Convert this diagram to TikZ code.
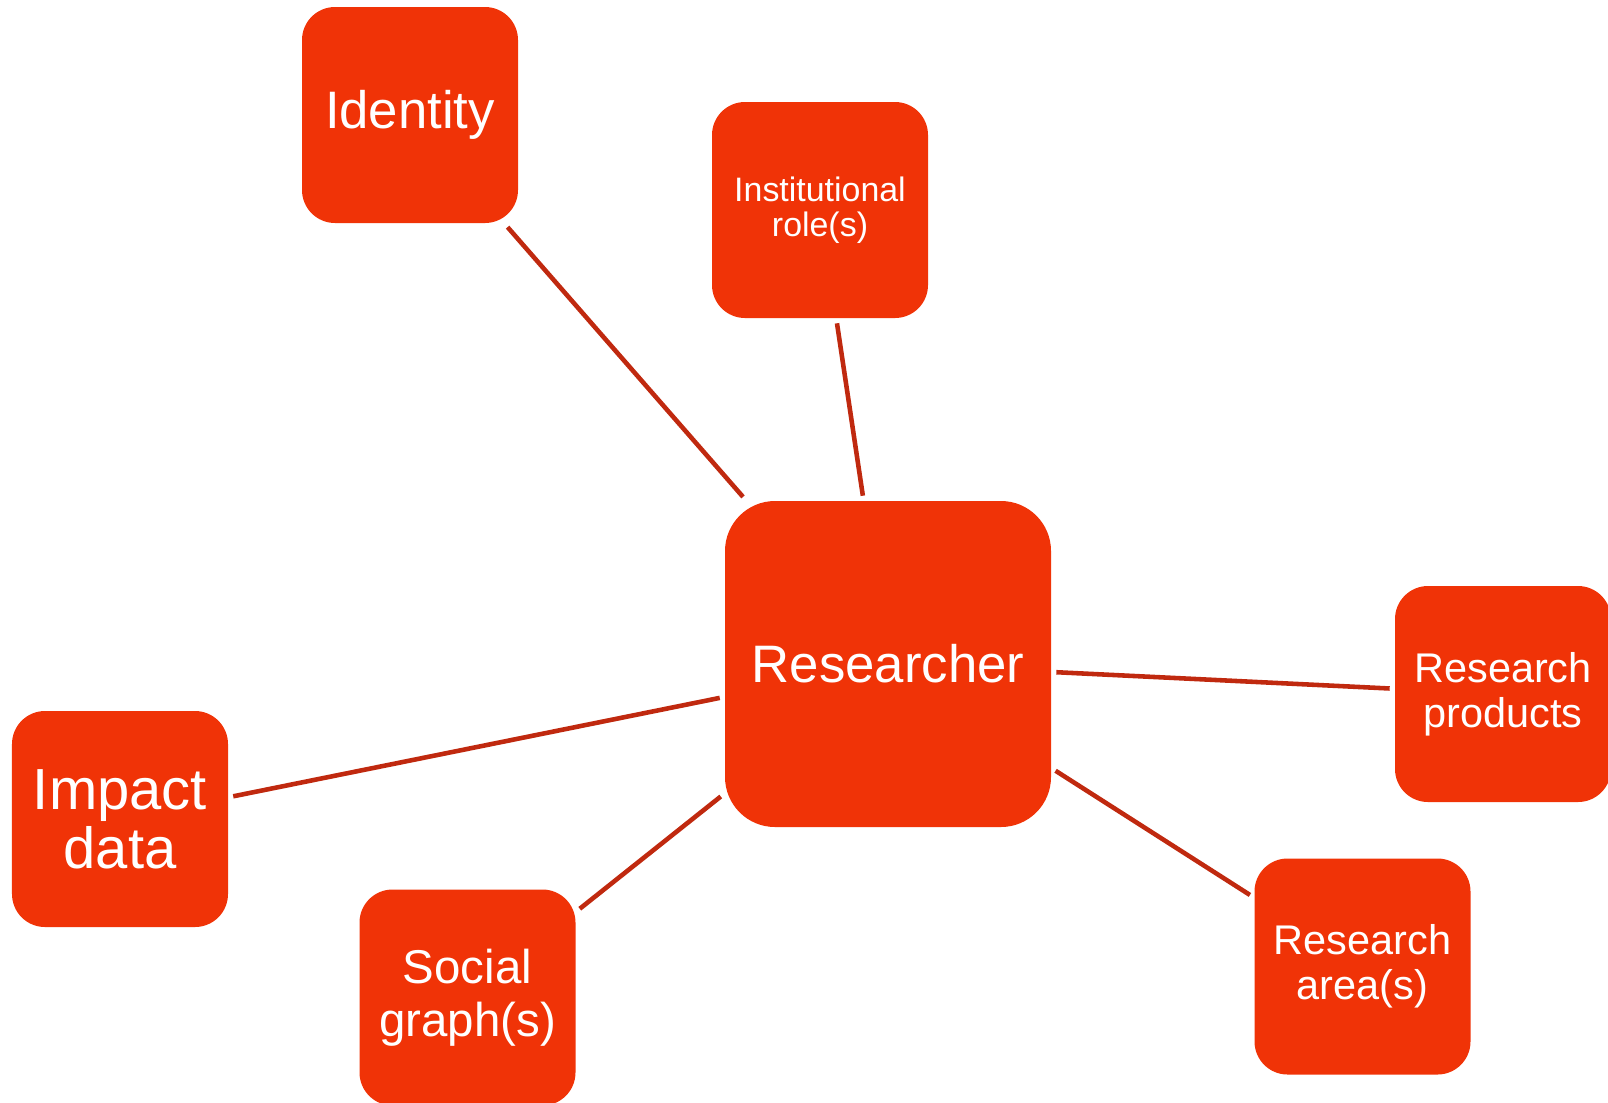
\documentclass[tikz,border=0pt]{standalone}
\usepackage{fontspec}
\setmainfont{Liberation Sans}
\definecolor{boxred}{HTML}{F03307}
\definecolor{linkred}{HTML}{C0290F}
\tikzset{
    topic/.style={rectangle, fill=boxred, text=white, align=center, inner sep=2pt,
        minimum width=4.32cm, minimum height=4.32cm, rounded corners=0.66cm},
    link/.style={draw=linkred, line width=2.6pt, shorten >=0.1cm, shorten <=0.1cm}
}
\begin{document}
\begin{tikzpicture}[-]
    \useasboundingbox (0,0) rectangle (32.16,-22.04);

    % centre
    \node[topic, minimum width=6.52cm, minimum height=6.52cm, rounded corners=1cm,
        font=\fontsize{30}{30}\selectfont](R) at (17.76,-13.28) {Researcher};

    % the six around it
    \node[topic, font=\fontsize{30}{30}\selectfont](Ident) at (8.2,-2.3) {Identity};
    \node[topic, font=\fontsize{19.3}{20}\selectfont](Inst) at (16.4,-4.2) {Institutional\\role(s)};
    \node[topic, font=\fontsize{23.6}{25.5}\selectfont](Prod) at (30.06,-13.88) {Research\\products};
    \node[topic, font=\fontsize{23.6}{25.5}\selectfont](Area) at (27.25,-19.33) {Research\\area(s)};
    \node[topic, font=\fontsize{27}{30}\selectfont](Soc) at (9.35,-19.95) {Social\\graph(s)};
    \node[topic, font=\fontsize{33}{33.7}\selectfont](Imp) at (2.4,-16.38) {Impact\\data};

    \path[link] (Ident) edge (R);
    \path[link] (Inst) edge (R);
    \path[link] (R) edge (Prod);
    \path[link] (R) edge (Area);
    \path[link] (R) edge (Soc);
    \path[link] (R) edge (Imp);
\end{tikzpicture}
\end{document}
